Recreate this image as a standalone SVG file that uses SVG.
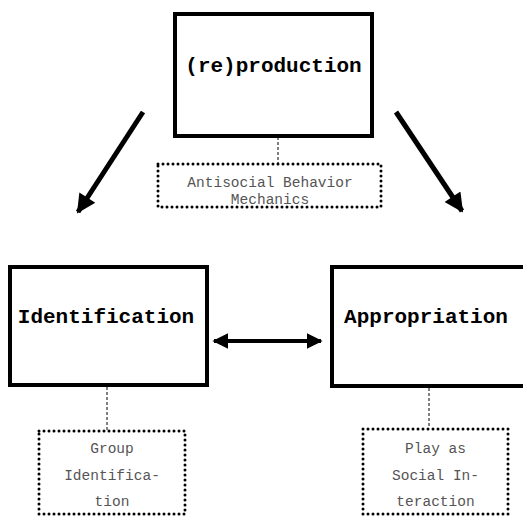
<svg xmlns="http://www.w3.org/2000/svg" width="523" height="517" viewBox="0 0 523 517">
  <style>
    .box { fill: #ffffff; stroke: #000000; stroke-width: 4; }
    .note { fill: none; stroke: #000000; stroke-width: 3; stroke-dasharray: 0 5; stroke-linecap: round; }
    .title { font-family: "Courier New", "Nimbus Mono PS", "FreeMono", "Liberation Mono", monospace; font-weight: bold; font-size: 21px; fill: #000000; text-anchor: middle; }
    .label { font-family: "Courier New", "Nimbus Mono PS", "FreeMono", "Liberation Mono", monospace; font-size: 14.5px; fill: #555555; text-anchor: middle; }
    .link { stroke: #000000; stroke-width: 1; stroke-dasharray: 3 2; fill: none; }
    .arrow { stroke: #000000; stroke-width: 5; fill: none; }
    .harrow { stroke: #000000; stroke-width: 4; fill: none; }
  </style>
  <defs>
    <marker id="head" viewBox="0 0 10 10" refX="9" refY="5" markerWidth="4.4" markerHeight="3.8" markerUnits="strokeWidth" orient="auto">
      <path d="M0,0 L10,5 L0,10 Z" fill="#000000"/>
    </marker>
    <marker id="headH" viewBox="0 0 10 10" refX="9" refY="5" markerWidth="4" markerHeight="4" markerUnits="strokeWidth" orient="auto-start-reverse">
      <path d="M0,0 L10,5 L0,10 Z" fill="#000000"/>
    </marker>
  </defs>

  <!-- connectors -->
  <g id="connectors">
    <line class="arrow" x1="143" y1="112" x2="78" y2="212" marker-end="url(#head)"/>
    <line class="arrow" x1="396" y1="112" x2="462" y2="211" marker-end="url(#head)"/>
    <line class="harrow" x1="214" y1="341" x2="321" y2="341" marker-start="url(#headH)" marker-end="url(#headH)"/>
    <line class="link" x1="278" y1="137" x2="278" y2="163"/>
    <line class="link" x1="107" y1="387" x2="107" y2="430"/>
    <line class="link" x1="429" y1="388" x2="429" y2="428"/>
  </g>

  <!-- main concepts -->
  <g id="reproduction">
    <rect class="box" x="175" y="14" width="197" height="122"/>
    <text class="title" x="273.5" y="72">(re)production</text>
  </g>
  <g id="identification">
    <rect class="box" x="10" y="267" width="197" height="118"/>
    <text class="title" x="106" y="323">Identification</text>
  </g>
  <g id="appropriation">
    <rect class="box" x="332" y="267" width="200" height="119"/>
    <text class="title" x="426" y="323">Appropriation</text>
  </g>

  <!-- annotations -->
  <g id="antisocial-note">
    <rect class="note" x="158" y="164" width="223" height="43"/>
    <text class="label" x="270" y="187">Antisocial Behavior</text>
    <text class="label" x="270" y="204">Mechanics</text>
  </g>
  <g id="group-note">
    <rect class="note" x="39" y="431" width="146" height="83"/>
    <text class="label" x="112" y="453">Group</text>
    <text class="label" x="112" y="480">Identifica-</text>
    <text class="label" x="112" y="506">tion</text>
  </g>
  <g id="play-note">
    <rect class="note" x="363" y="429" width="145" height="85"/>
    <text class="label" x="435.5" y="453">Play as</text>
    <text class="label" x="435.5" y="480">Social In-</text>
    <text class="label" x="435.5" y="506">teraction</text>
  </g>
</svg>
